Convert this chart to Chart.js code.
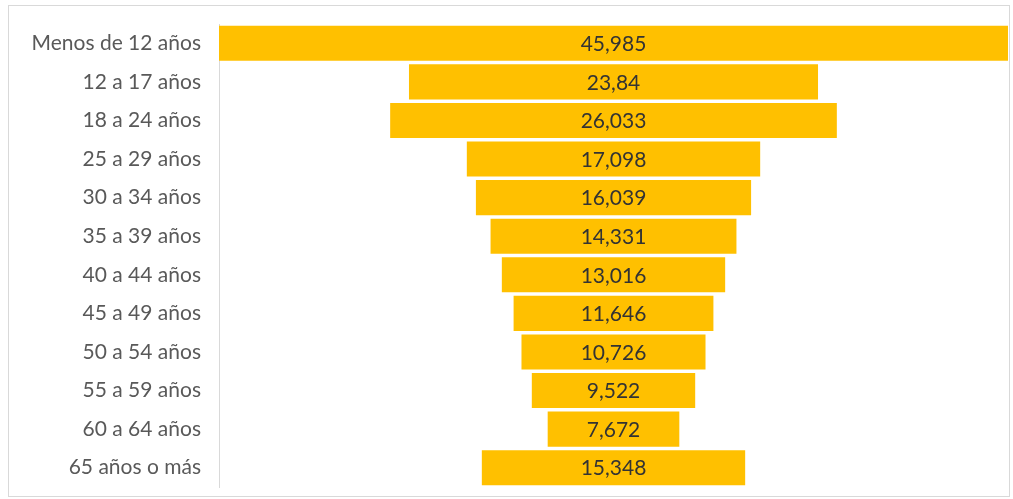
<!DOCTYPE html>
<html><head><meta charset="utf-8">
<script src="https://cdn.jsdelivr.net/npm/chart.js@4.4.0/dist/chart.umd.min.js"></script>
<style>html,body{margin:0;padding:0;background:#fff;}#wrap{width:1013px;height:499px;position:relative;}</style>
</head><body><div id="wrap"><canvas id="c"></canvas></div>
<script>
const categories = ["Menos de 12 años","12 a 17 años","18 a 24 años","25 a 29 años","30 a 34 años","35 a 39 años","40 a 44 años","45 a 49 años","50 a 54 años","55 a 59 años","60 a 64 años","65 años o más"];
const values = [45.985,23.84,26.033,17.098,16.039,14.331,13.016,11.646,10.726,9.522,7.672,15.348];
const valueLabels = ["45,985","23,84","26,033","17,098","16,039","14,331","13,016","11,646","10,726","9,522","7,672","15,348"];
const maxV = Math.max(...values);

const frame = {
  id:'frame',
  beforeDraw(chart){
    const c = chart.ctx;
    c.save();
    c.fillStyle='#fff';c.fillRect(0,0,chart.width,chart.height);
    c.strokeStyle='#D9D9D9';c.lineWidth=1;
    c.strokeRect(8.5,5.5,1001,491);
    c.restore();
  }
};
const labelsPlugin = {
  id:'vlabels',
  afterDatasetsDraw(chart){
    const c = chart.ctx;
    const meta = chart.getDatasetMeta(0);
    c.save();
    c.font = '21px Lato, "Open Sans", sans-serif';
    c.fillStyle = '#333333';
    c.textAlign='center';c.textBaseline='middle';
    meta.data.forEach((b,i)=>{
      c.fillText(valueLabels[i], (b.x+b.base)/2, b.y+1);
    });
    c.restore();
  }
};
new Chart(document.getElementById('c'),{
  type:'bar',
  data:{labels:categories,datasets:[{data:values.map(v=>[-v/2,v/2]),backgroundColor:'#FFC000',borderWidth:0,barPercentage:0.91,categoryPercentage:1}]},
  options:{
    indexAxis:'y',responsive:true,maintainAspectRatio:false,animation:false,
    layout:{padding:{top:24,bottom:12,right:5,left:0}},
    plugins:{legend:{display:false},tooltip:{enabled:false}},
    scales:{
      x:{display:false,min:-maxV/2,max:maxV/2},
      y:{
        afterFit(s){s.width=219;s.paddingTop=0;s.paddingBottom=0;},
        grid:{display:false,drawTicks:false},
        border:{display:true,color:'#D9D9D9',width:1},
        ticks:{padding:18,color:'#595959',font:{family:'Lato, "Open Sans", sans-serif',size:21}}
      }
    }
  },
  plugins:[frame,labelsPlugin]
});
</script></body></html>
